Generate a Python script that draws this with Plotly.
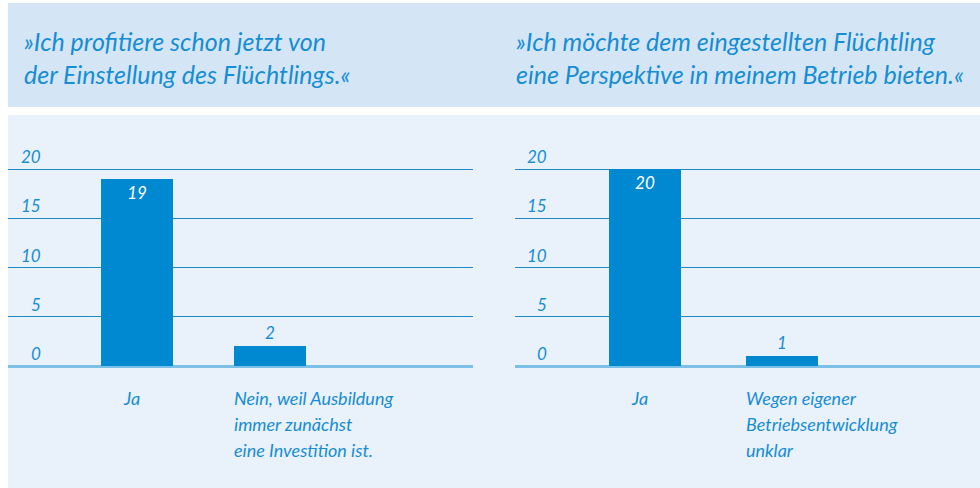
import plotly.graph_objects as go

# ---- data ----
titles_left = ["»Ich profitiere schon jetzt von", "der Einstellung des Flüchtlings.«"]
titles_right = ["»Ich möchte dem eingestellten Flüchtling", "eine Perspektive in meinem Betrieb bieten.«"]
cats_left = ["Ja", "Nein, weil Ausbildung<br>immer zunächst<br>eine Investition ist."]
vals_left = [19, 2]
cats_right = ["Ja", "Wegen eigener<br>Betriebsentwicklung<br>unklar"]
vals_right = [20, 1]
tick_vals = [0, 5, 10, 15, 20]
tick_text = ["0", "5", "10", "15", "20"]

# ---- style ----
W, H = 980, 488
BLUE_TXT = "#178dd3"
BAR = "#0089d0"
GRID = "#1e88c9"
ZERO = "#7cc0e8"
HEADER_BG = "#d4e6f5"
PANEL_BG = "#e9f1fa"
FONT = "Lato"
TITLE_SIZE = 25
NUM_SIZE = 17
CAT_SIZE = 18

def px_x(p):
    return p / W

def px_y(p):
    return 1 - p / H

fig = go.Figure()

def textpos(vals):
    return ["inside" if v >= 5 else "outside" for v in vals]

for vals, xa, ya, bw in ((vals_left, "x", "y", 0.541), (vals_right, "x2", "y2", 0.526)):
    fig.add_trace(go.Bar(x=list(range(len(vals))), y=vals, xaxis=xa, yaxis=ya,
                         marker=dict(color=BAR, line=dict(width=0)), width=bw,
                         text=[str(v) for v in vals], textposition=textpos(vals),
                         insidetextanchor="end", cliponaxis=False, textangle=0,
                         insidetextfont=dict(color="white", size=NUM_SIZE, family=FONT, style="italic"),
                         outsidetextfont=dict(color=BLUE_TXT, size=NUM_SIZE, family=FONT, style="italic"),
                         hoverinfo="skip", showlegend=False))

ydom = [px_y(366), px_y(149.3)]
yaxis_common = dict(range=[0, 22], domain=ydom, tickvals=tick_vals, showticklabels=False,
                    showgrid=True, gridcolor=GRID, gridwidth=1.3,
                    zeroline=True, zerolinecolor=ZERO, zerolinewidth=2.5,
                    showline=False, ticks="", fixedrange=True)
fig.update_layout(
    width=W, height=H, margin=dict(l=0, r=0, t=0, b=0),
    paper_bgcolor="white", plot_bgcolor="rgba(0,0,0,0)",
    font=dict(family=FONT, color=BLUE_TXT),
    xaxis=dict(domain=[px_x(8), px_x(473)], range=[-0.97, 2.526], showticklabels=False,
               showgrid=False, zeroline=False, ticks="", fixedrange=True),
    xaxis2=dict(domain=[px_x(515), 1.0], range=[-0.949, 2.445], showticklabels=False,
                showgrid=False, zeroline=False, ticks="", fixedrange=True),
    yaxis=dict(anchor="x", **yaxis_common),
    yaxis2=dict(anchor="x2", **yaxis_common),
    bargap=0,
)

# backgrounds
fig.add_shape(type="rect", xref="paper", yref="paper", x0=px_x(8), x1=1, y0=px_y(107), y1=px_y(3),
              fillcolor=HEADER_BG, line=dict(width=0), layer="below")
fig.add_shape(type="rect", xref="paper", yref="paper", x0=px_x(8), x1=1, y0=0, y1=px_y(115),
              fillcolor=PANEL_BG, line=dict(width=0), layer="below")

ann = []
# titles
for lines, x0 in ((titles_left, 22), (titles_right, 514)):
    for i, line in enumerate(lines):
        ann.append(dict(text=line, xref="paper", yref="paper", x=px_x(x0), y=px_y(41 + 33 * i),
                        xanchor="left", yanchor="middle", showarrow=False,
                        font=dict(size=TITLE_SIZE, color=BLUE_TXT, family=FONT, style="italic")))
# y tick labels
for yr, xr_px in (("y", 43), ("y2", 549)):
    for v, t in zip(tick_vals, tick_text):
        ann.append(dict(text=t, xref="paper", yref=yr, x=px_x(xr_px), y=v, xanchor="right",
                        yanchor="bottom", showarrow=False, yshift=0,
                        font=dict(size=NUM_SIZE, color=BLUE_TXT, family=FONT, style="italic")))
# category labels
for cats, xr, bw in ((cats_left, "x", 0.541), (cats_right, "x2", 0.526)):
    for ci, cat in enumerate(cats):
        lines = cat.split("<br>")
        for li, line in enumerate(lines):
            if len(lines) == 1:
                d = dict(x=ci, xanchor="center", xshift=-6)
            else:
                d = dict(x=ci - bw / 2, xanchor="left", xshift=-2)
            ann.append(dict(text=line, xref=xr, yref="paper", y=px_y(398 + 26 * li),
                            yanchor="middle", showarrow=False,
                            font=dict(size=CAT_SIZE, color=BLUE_TXT, family=FONT, style="italic"), **d))
fig.update_layout(annotations=ann)

fig.write_html("out.html", config={"displayModeBar": False},
               post_script="document.body.style.margin='0';")
